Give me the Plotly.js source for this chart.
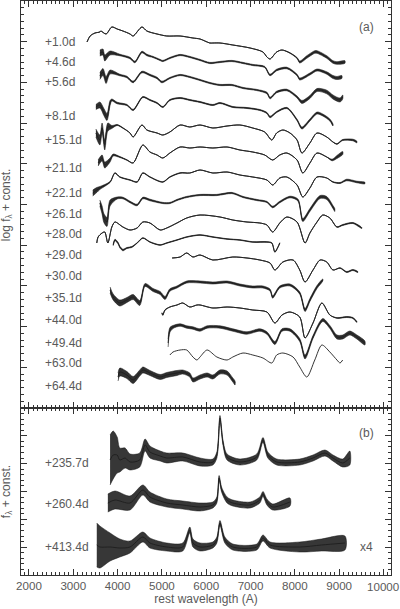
<!DOCTYPE html>
<html><head><meta charset="utf-8">
<script src="https://cdn.plot.ly/plotly-3.0.1.min.js"></script>
<style>html,body{margin:0;padding:0;background:#fff;overflow:hidden}</style>
</head><body><div id="chart" style="width:400px;height:609px"></div>
<script>
// Each row: [rest wavelength (A), flux (arbitrary offset units), noise half-width]
// Panel (a): log f + const.
const sp_001 = [[3310,366,0],[3380,372,0],[3490,375,0],[3600,376,0],[3620,377,0],[3740,374,0],[3870,381,0],[3990,379,0],[4120,377,0],[4280,374,0],[4350,372,0],[4550,381,0],[4660,377,0],[4890,374,0],[5110,372,0],[5410,372,0],[5700,370,0],[5860,369,0],[5970,367,0],[6080,365,0],[6150,365,0],[6310,365,0],[6600,363,0],[6990,360,0],[7280,356,0],[7370,351,0],[7440,349,0],[7590,356,0],[7710,358,0],[7890,355,0.3],[8050,350,0.5],[8110,346,1],[8270,351,1.3],[8450,356,1.3],[8500,356,1.3],[8720,351,1.3],[8860,346,1.3],[8950,345,1.3],[9130,346,1.3]];
const sp_046 = [[3600,355,3],[3670,356,3],[3710,350,3],[3830,355,2],[4050,353,0.8],[4280,350,0.8],[4390,346,0.8],[4550,356,0.8],[4660,353,0.8],[4800,351,0.6],[4960,348,0.6],[5020,347,0.6],[5180,350,0.6],[5410,353,0.6],[5630,351,0.6],[5860,348,0.6],[6080,345,0.6],[6310,346,0.6],[6580,347,0.6],[6830,345,0.6],[7050,343,0.6],[7320,341,0.6],[7440,333,0.8],[7590,338,0.8],[7820,340,0.8],[8050,333,0.8],[8110,329,1],[8340,334,1],[8500,338,1],[8720,335,1.2],[8860,331,1.5],[8950,330,1.5],[9060,331,1.5]];
const sp_056 = [[3600,332,3.5],[3670,336,3.5],[3740,328,3.5],[3830,336,2],[4050,333,0.8],[4210,331,0.8],[4350,326,0.8],[4550,336,0.8],[4730,333,0.8],[4890,330,0.8],[5000,326,0.8],[5180,330,0.6],[5410,333,0.6],[5630,331,0.6],[5860,328,0.6],[6080,325,0.6],[6310,323,0.6],[6580,323,0.6],[6830,320,0.6],[7140,318,0.6],[7370,315,0.8],[7440,310,0.8],[7590,316,0.8],[7820,318,0.8],[8050,311,1],[8160,306,1.5],[8340,311,1.5],[8500,318,1.5],[8720,316,1.8],[8860,311,2],[9020,308,2],[9080,311,2]];
const sp_081 = [[3510,301,2.5],[3600,303,3],[3690,296,3.5],[3760,291,3.5],[3830,305,2.5],[3870,308,1],[3990,305,0.8],[4210,303,0.6],[4350,298,0.6],[4570,311,0.5],[4730,308,0.5],[4890,305,0.5],[5020,301,0.5],[5180,308,0.5],[5410,310,0.5],[5630,308,0.5],[5860,306,0.5],[6150,303,0.5],[6310,305,0.5],[6600,301,0.5],[6920,300,0.5],[7210,298,0.5],[7370,295,0.6],[7440,291,0.8],[7590,296,0.6],[7820,300,0.6],[8050,288,0.8],[8160,280,1],[8340,288,1],[8500,295,1],[8630,293,1],[8790,288,1],[8860,283,1]];
const sp_151 = [[3510,275,4],[3600,268,5],[3650,280,5],[3710,263,5],[3780,281,4],[3870,281,1.5],[3990,283,0.5],[4120,280,0.3],[4280,275,0],[4350,271,0],[4550,283,0],[4660,278,0],[4890,275,0],[5020,273,0],[5180,276,0],[5410,283,0],[5630,281,0],[5860,283,0],[6150,280,0],[6470,282,0],[6760,283,0],[7050,280,0],[7320,276,0],[7480,268,0],[7590,275,0],[7730,278,0],[7890,275,0],[8050,268,0],[8160,255,0],[8340,265,0],[8500,275,0],[8720,271,0],[8860,266,0],[8950,264,0.3],[9080,268,0.5],[9310,268,0.8],[9400,266,0.8]];
const sp_211 = [[3560,245,3],[3650,250,3],[3710,243,3],[3830,248,2],[3900,253,1],[4050,251,0.5],[4210,248,0.3],[4350,245,0],[4570,263,0],[4730,256,0],[4890,253,0],[5020,250,0],[5180,255,0],[5410,261,0],[5630,260,0],[5860,261,0],[6150,260,0],[6470,261,0],[6760,258,0],[7050,256,0],[7320,253,0],[7500,248,0],[7660,253,0],[7820,255,0],[8050,248,0],[8180,235,0],[8340,245,0],[8500,255,0],[8720,251,0],[8840,248,0.8],[8950,251,1.5],[9080,255,1.5]];
const sp_221 = [[3440,215,3],[3530,218,2.5],[3600,220,1.5],[3830,226,0.5],[3940,235,0.3],[4050,231,0.3],[4280,228,0.3],[4440,226,0.3],[4570,235,0.3],[4730,231,0.3],[5020,226,0.3],[5180,231,0.3],[5410,235,0.3],[5630,235,0],[5860,238,0],[6150,235,0],[6470,236,0],[6760,233,0],[7050,231,0],[7370,228,0],[7500,223,0],[7660,230,0],[7820,231,0],[8050,223,0],[8180,211,0],[8340,220,0],[8500,231,0],[8720,230,0],[8860,226,0.3],[9020,225,0.5],[9170,228,0.8],[9400,226,0.8],[9580,225,0.8]];
const sp_261 = [[3600,205,3],[3650,198,4],[3690,190,4.5],[3760,186,4.5],[3830,205,3],[3990,210,1],[4120,210,0.8],[4280,206,0.8],[4440,203,0.8],[4570,210,0.8],[4730,208,0.8],[5020,205,0.6],[5180,205,0.6],[5340,208,0.6],[5560,211,0.6],[5860,213,0.6],[6240,213,0.6],[6580,215,0.6],[6830,211,0.6],[7140,208,0.6],[7370,206,0.6],[7500,201,0.8],[7660,206,0.8],[7890,211,0.8],[8070,208,1],[8180,188,1.5],[8340,198,1.5],[8570,211,1.5],[8720,210,1.5],[8860,201,1.5],[8900,198,1.5]];
const sp_280 = [[3530,165,0],[3560,171,0],[3650,175,0],[3710,176,0],[3780,165,0],[3870,181,0],[3940,186,0],[4120,181,0],[4280,178,0],[4440,180,0],[4570,186,0],[4730,185,0],[4960,178,0],[5110,180,0],[5340,185,0],[5560,190,0],[5860,193,0],[6310,191,0],[6600,188,0],[6920,186,0],[7210,185,0],[7370,183,0],[7500,176,0],[7660,185,0],[7820,191,0],[8050,186,0],[8230,165,0],[8340,175,0],[8500,186,0],[8630,193,0],[8790,190,0],[8950,181,0.3],[9080,183,0.5],[9310,185,0.5],[9510,180,0.5]];
const sp_290 = [[3900,163,0.8],[3940,168,0.8],[4010,165,0.8],[4050,161,0.8],[4120,158,0.8],[4210,160,0.5],[4320,161,0.5],[4440,165,0.3],[4570,170,0.3],[4730,166,0.3],[4960,163,0.3],[5110,165,0.3],[5340,168,0.3],[5560,171,0.3],[5860,173,0.3],[6150,171,0.3],[6470,169,0.3],[6760,168,0.3],[7050,166,0.3],[7370,166,0.3],[7480,165,0.3],[7550,156,0.3],[7620,161,0.3],[7660,165,0.3]];
const sp_300 = [[5230,150,0],[5410,151,0],[5560,155,0],[5700,151,0],[5860,153,0],[6150,148,0],[6600,151,0],[6920,150,0],[7210,148,0],[7440,145,0],[7550,138,0],[7730,146,0],[7960,148,0],[8110,138,0],[8230,126,0],[8410,138,0],[8570,148,0],[8720,146,0],[8860,138,0],[9020,140,0.3],[9170,136,0.5],[9310,138,0.5],[9420,136,0.5]];
const sp_351 = [[3830,118,3],[3900,111,3],[4050,105,3],[4210,108,2.5],[4350,111,2.5],[4500,105,2.5],[4620,123,1.5],[4800,118,1.5],[4960,115,1.5],[5070,110,1.5],[5180,118,1.2],[5340,121,1],[5560,126,1],[5860,126,1],[6150,125,1],[6470,126,1],[6760,123,1],[7050,121,1],[7280,121,1],[7440,118,1],[7500,111,1.2],[7660,121,1],[7890,123,1],[8110,115,1.2],[8230,98,1.5],[8340,108,1.5],[8500,121,1.5],[8630,128,1]];
const sp_440 = [[5000,95,0.5],[5020,93,0.5],[5070,98,0.3],[5180,101,0],[5340,103,0],[5470,105,0],[5630,101,0],[5790,103,0],[5860,103,0],[6150,100,0],[6470,101,0],[6760,100,0],[7050,98,0],[7370,96,0],[7550,85,0],[7710,93,0],[7890,96,0],[8110,91,0],[8230,70,0],[8410,85,0],[8610,105,0],[8790,93,0],[8950,90,0.3],[9170,91,0.5],[9310,90,0.5],[9400,86,0.5]];
const sp_494 = [[5140,65,4],[5180,78,2.5],[5250,81,1.5],[5410,83,1.2],[5560,81,1.2],[5700,80,1.2],[5860,78,1.2],[6020,81,1.2],[6310,81,1.2],[6600,78,1.2],[6920,75,1.2],[7210,78,1.2],[7370,75,1.2],[7550,65,1.5],[7710,78,1.2],[7890,78,1.2],[8110,68,1.5],[8230,51,2],[8410,71,1.5],[8630,88,1.5],[8790,81,1.5],[8950,71,2],[9080,71,2],[9240,75,2],[9400,71,2],[9580,65,2]];
const sp_630 = [[5180,53,0],[5250,56,0],[5410,58,0],[5560,58,0],[5700,51,0],[5790,48,0],[5860,51,0],[6020,58,0],[6240,51,0],[6470,48,0],[6600,51,0],[6830,55,0],[7050,53,0],[7280,50,0],[7480,45,0],[7590,53,0],[7730,55,0],[7960,51,0],[8110,41,0],[8270,31,0],[8450,48,0],[8610,63,0],[8790,56,0],[8950,48,0],[9020,45,0],[9080,48,0]];
const sp_644 = [[4010,31,4],[4050,36,4],[4210,33,3.5],[4350,28,3.5],[4500,35,3],[4570,38,3],[4730,35,2.5],[4960,31,2.5],[5110,33,2.5],[5340,35,2.5],[5470,36,2],[5630,33,2],[5700,28,2],[5860,31,2],[6020,33,2],[6150,31,2],[6310,36,2],[6470,35,2],[6600,28,2],[6650,25,2]];
// Panel (b): f + const.
const sp_2357 = [[3830,115,25],[3900,120,24],[3990,120,18],[4050,115,12],[4170,117,10],[4280,113,8],[4500,115,7],[4620,130,6],[4730,123,6],[4960,119,5],[5110,117,5],[5470,118,4],[5860,113,4],[6150,113,3],[6240,120,3],[6310,157,2.5],[6380,132,2.5],[6470,118,3],[6760,113,3],[7140,118,3],[7280,135,2.5],[7390,120,3],[7590,113,3],[8110,113,3],[8410,117,3],[8680,122,3],[8860,117,3],[9080,112,4],[9240,117,7]];
const sp_2604 = [[3780,72,9],[3940,75,9],[4280,72,7],[4570,85,5],[4730,78,5],[5110,72,4],[5470,70,4],[5860,68,4],[6150,70,3],[6240,75,3],[6290,97,2.5],[6350,85,2.5],[6470,75,3],[6600,72,3],[6990,70,3],[7210,75,3],[7280,81,2.5],[7370,73,3],[7500,68,3],[7890,73,4]];
const sp_4134 = [[3530,30,22],[3600,28,21],[3830,28,14],[4050,27,9],[4280,28,6],[4570,38,5],[4730,32,5],[5110,28,4],[5470,28,4],[5630,45,3],[5700,32,4],[5860,28,4],[6150,30,3],[6240,35,3],[6310,52,2.5],[6420,35,3],[6600,28,3],[7140,28,3],[7280,37,3],[7440,30,3],[8110,28,5],[8600,30,6],[9130,32,7]];

const epochsA = ['+1.0d','+4.6d','+5.6d','+8.1d','+15.1d','+21.1d','+22.1d','+26.1d','+28.0d','+29.0d','+30.0d','+35.1d','+44.0d','+49.4d','+63.0d','+64.4d'];
const spectraA = [sp_001,sp_046,sp_056,sp_081,sp_151,sp_211,sp_221,sp_261,sp_280,sp_290,sp_300,sp_351,sp_440,sp_494,sp_630,sp_644];
const epochsB = ['+235.7d','+260.4d','+413.4d'];
const spectraB = [sp_2357,sp_2604,sp_4134];
const xTickVals = [2000,3000,4000,5000,6000,7000,8000,9000,10000];
const xTickText = ['2000','3000','4000','5000','6000','7000','8000','9000','10000'];

// label layout (positions, not data)
const labelYA = [365.7,345.7,325.7,292.3,268,239.7,214.7,193.7,173.7,153,132.3,109.7,88,65.3,44.7,22];
const labelYB = [112.3,70.7,28.3];

const FONT = 'Liberation Sans, Arial, sans-serif';
const TXT = '#5a5a5a';
const INK = '#1e1e1e';
const traces = [];
function addSpectrum(rows, xa, ya, bandFill){
  const x = rows.map(r=>r[0]), y = rows.map(r=>r[1]);
  if (rows.some(r=>r[2]>0)){
    const up = rows.map(r=>r[1]+r[2]), lo = rows.map(r=>r[1]-r[2]);
    traces.push({type:'scatter',mode:'lines',x:x.concat(x.slice().reverse()),y:up.concat(lo.slice().reverse()),
      fill:'toself',fillcolor:bandFill,line:{color:bandFill,width:0.6,shape:'spline',smoothing:0.8},xaxis:xa,yaxis:ya,hoverinfo:'skip',showlegend:false});
  }
  traces.push({type:'scatter',mode:'lines',x:x,y:y,line:{color:INK,width:0.9,shape:'spline',smoothing:0.8},xaxis:xa,yaxis:ya,showlegend:false});
}
spectraA.forEach(s=>addSpectrum(s,'x2','y','rgba(25,25,25,0.9)'));
spectraB.forEach(s=>addSpectrum(s,'x','y2','rgba(20,20,20,0.85)'));

// the last wavelength tick label is placed as an annotation so it is not hidden at the right edge
const nLab = xTickVals.length - 1;
const axisTickText = xTickText.map((t,i)=> i===nLab ? '' : t);

const annotations = [];
const tfa = () => ({family:FONT,size:12,color:TXT});
epochsA.forEach((t,i)=>annotations.push({text:t,xref:'x2',yref:'y',x:2316,y:labelYA[i],xanchor:'left',yanchor:'middle',showarrow:false,font:tfa()}));
epochsB.forEach((t,i)=>annotations.push({text:t,xref:'x',yref:'y2',x:2316,y:labelYB[i],xanchor:'left',yanchor:'middle',showarrow:false,font:tfa()}));
annotations.push({text:'(a)',xref:'x2',yref:'y',x:9400,y:381,xanchor:'left',yanchor:'middle',showarrow:false,font:tfa()});
annotations.push({text:'(b)',xref:'x',yref:'y2',x:9400,y:142,xanchor:'left',yanchor:'middle',showarrow:false,font:tfa()});
annotations.push({text:'x4',xref:'x',yref:'y2',x:9420,y:28.3,xanchor:'left',yanchor:'middle',showarrow:false,font:tfa()});
annotations.push({text:'log f<sub>λ</sub> + const.',xref:'paper',yref:'paper',x:-0.038,y:0.646,textangle:-90,xanchor:'center',yanchor:'middle',showarrow:false,font:tfa()});
annotations.push({text:'f<sub>λ</sub> + const.',xref:'paper',yref:'paper',x:-0.038,y:0.146,textangle:-90,xanchor:'center',yanchor:'middle',showarrow:false,font:tfa()});
annotations.push({text:xTickText[nLab],xref:'x',yref:'paper',x:xTickVals[nLab],y:-0.02,xanchor:'center',yanchor:'middle',showarrow:false,borderpad:0,font:{family:FONT,size:11.6,color:TXT}});

const AX = '#333';
const base = {showline:true,linecolor:AX,linewidth:1,mirror:'ticks',ticks:'inside',tickcolor:AX,tickwidth:1,showgrid:false,zeroline:false};
const split = 167/574;
const layout = {
  width:400,height:609,margin:{l:21,r:9,t:1,b:34},paper_bgcolor:'#fff',plot_bgcolor:'#fff',showlegend:false,
  xaxis:Object.assign({},base,{range:[1820,10170],tickmode:'array',tickvals:xTickVals,ticktext:axisTickText,ticklen:6,anchor:'y2',ticklabeloverflow:'allow',
    minor:{ticks:'inside',tick0:0,dtick:100,ticklen:3,tickcolor:AX,showgrid:false},
    tickfont:{family:FONT,size:11.6,color:TXT},
    title:{text:'rest wavelength (A)',font:tfa(),standoff:2}}),
  xaxis2:Object.assign({},base,{range:[1820,10170],tickmode:'array',tickvals:xTickVals,ticklen:6,anchor:'y',matches:'x',showticklabels:false,
    minor:{ticks:'inside',tick0:0,dtick:100,ticklen:3,tickcolor:AX,showgrid:false}}),
  yaxis:Object.assign({},base,{domain:[split,1],range:[0,407],tick0:0,dtick:40.7,ticklen:6,showticklabels:false,anchor:'x2',
    minor:{ticks:'inside',dtick:40.7/6,ticklen:3,tickcolor:AX,showgrid:false}}),
  yaxis2:Object.assign({},base,{domain:[0,split],range:[0,167],tick0:0,dtick:167/6,ticklen:6,showticklabels:false,anchor:'x',
    minor:{ticks:'inside',dtick:167/30,ticklen:3,tickcolor:AX,showgrid:false}}),
  annotations:annotations
};
Plotly.newPlot('chart',traces,layout,{staticPlot:true,displayModeBar:false});
</script></body></html>
